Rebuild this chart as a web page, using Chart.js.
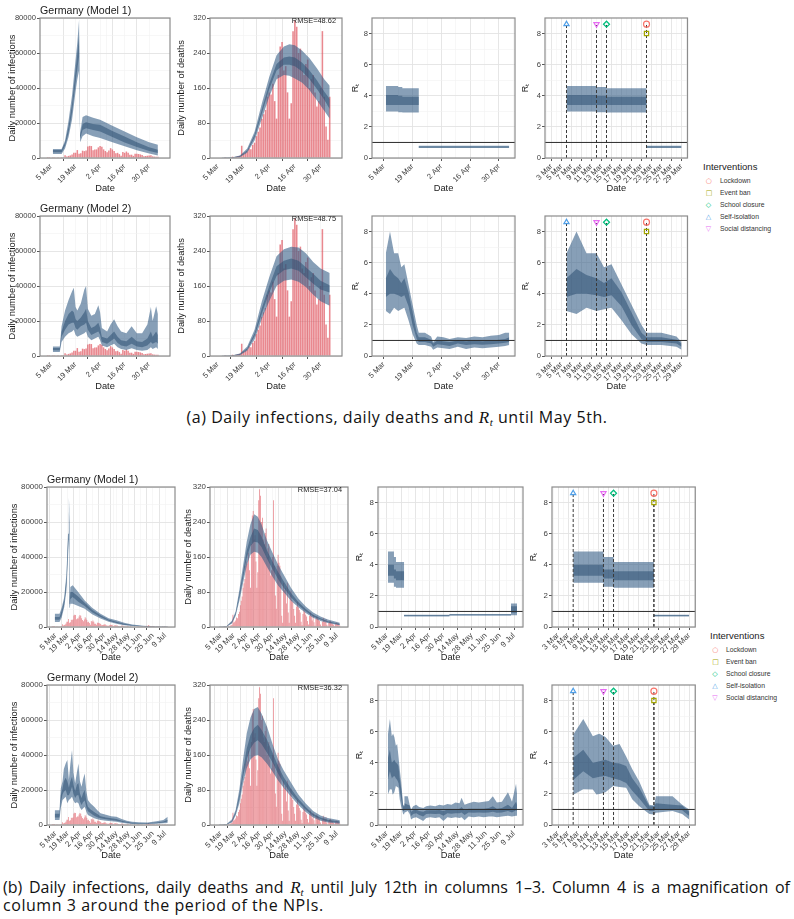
<!DOCTYPE html>
<html>
<head>
<meta charset="utf-8">
<script src="https://cdn.jsdelivr.net/npm/chart.js@4.4.1/dist/chart.umd.min.js"></script>
<style>
  body { margin: 0; width: 794px; height: 919px; background: #fff; position: relative; overflow: hidden; }
  canvas { position: absolute; }
  .cap { position: absolute; font-family: "Open Sans", "Noto Sans", sans-serif; font-size: 16px; letter-spacing: 0.55px; color: #111; white-space: nowrap; }
  .cap .m { font-family: "Liberation Serif", "DejaVu Serif", serif; font-style: italic; font-size: 17px; }
  .cap sub { font-family: "Liberation Serif", serif; font-style: italic; font-size: 11px; vertical-align: -3px; }
  .lg { position: absolute; font-family: "Liberation Sans", Arial, sans-serif; color: #222; white-space: nowrap; line-height: 1; }
</style>
</head>
<body>
<div class="cap" style="left:0; width:794px; top:406px; text-align:center;">(a) Daily infections, daily deaths and <span class="m">R</span><sub>t</sub> until May 5th.</div>
<div class="cap" style="left:3px; width:787px; top:876px; text-align:justify; text-align-last:justify; letter-spacing:0;">(b) Daily infections, daily deaths and <span class="m">R</span><sub>t</sub> until July 12th in columns 1–3. Column 4 is a magnification of</div>
<div class="cap" style="left:3px; top:894px;">column 3 around the period of the NPIs.</div>

<script>
// days are counted from 1 March 2020 (day 0)
const dailyCases = [
  50, 30, 40, 65, 220, 190, 130, 240, 140, 280,
  450, 170, 1600, 910, 1210, 1480, 1990, 3070, 2990, 4530,
  2370, 2660, 4180, 3930, 4340, 6620, 6930, 6820, 4400, 4790,
  4920, 6060, 6920, 6370, 4930, 4030, 3250, 4290, 5630, 4890,
  3990, 2740, 2950, 2220, 1290, 3390, 2950, 3700, 2950, 1840,
  1880, 1230, 2360, 2480, 2270, 2060, 1740, 1020, 1140, 1300,
  1480, 1640, 950, 790, 680, 690,
  950, 1280, 1210, 1250, 670, 360, 930,
  1000, 800, 910, 620, 580, 340, 510,
  800, 740, 650, 440, 460, 180, 430,
  740, 460, 350, 740, 290, 210, 340,
  340, 490, 300, 260, 210, 110, 380,
  280, 230, 460, 430, 250, 200, 310,
  600, 770, 580, 1160, 690, 560, 450,
  590, 470, 510, 400, 250, 200, 420,
  370, 480, 380, 250, 240, 200, 300,
  400, 440, 350, 250, 200
];

const dailyDeaths = [
  0, 0, 0, 0, 0, 0, 0, 0, 2, 0,
  1, 1, 3, 1, 3, 4, 5, 28, 10, 12,
  15, 22, 20, 30, 35, 50, 60, 70, 90, 100,
  110, 140, 150, 145, 170, 130, 90, 190, 255, 265,
  200, 210, 150, 90, 125, 290, 315, 300, 240, 250,
  200, 190, 215, 225, 160, 180, 190, 150, 118, 130,
  160, 290, 140, 72, 42, 140,
  165, 147, 140, 118, 26, 10, 101,
  84, 89, 54, 101, 33, 10, 72,
  83, 62, 57, 41, 26, 10, 47,
  58, 45, 39, 33, 12, 4, 30,
  40, 35, 28, 24, 14, 6, 25,
  33, 26, 15, 28, 11, 3, 19,
  24, 20, 17, 14, 6, 2, 12,
  21, 15, 12, 18, 5, 1, 9,
  13, 14, 10, 8, 6, 2, 7,
  11, 7, 9, 6, 3
];

// model bands: [day, lower 95%, lower 50%, upper 50%, upper 95%]
const infMay1 = [
  [5, 2300, 3300, 4600, 5200], [10, 2300, 3300, 4600, 5200], [12, 5500, 7000, 8700, 10000],
  [14, 12000, 14500, 18000, 21500], [16, 22000, 26000, 31000, 36000], [18, 38000, 43000, 50000, 56000],
  [19, 45000, 51000, 60000, 66000], [20, 50000, 58000, 70000, 79000], [20.6, 9000, 11000, 13000, 14500],
  [22, 12500, 16000, 19500, 23500], [24, 14000, 17000, 20500, 24500], [28, 12500, 16000, 19500, 23000],
  [32, 11400, 15200, 19000, 21800], [39, 9000, 12000, 15500, 18500], [46, 6650, 8900, 12350, 15200],
  [53, 4500, 6300, 9000, 11800], [60, 2600, 4000, 6200, 9000], [65, 1400, 2800, 4700, 7600]
];
const infMay2 = [
  [5, 2300, 3300, 4600, 5500], [9, 2300, 3300, 4600, 5500], [10, 8000, 11000, 14000, 17000],
  [12, 11000, 15000, 20000, 26000], [14, 13000, 18000, 24000, 32000], [16, 14000, 19000, 26000, 37000],
  [17, 15000, 19000, 25000, 39000], [18, 12000, 16000, 21000, 28000], [19, 11000, 15000, 20000, 26000],
  [21, 12000, 17000, 22000, 30000], [23, 13000, 18000, 25000, 38000], [24, 14000, 19000, 27000, 40000],
  [25, 11000, 15000, 20000, 27000], [27, 9000, 12000, 16000, 23000], [29, 10000, 13000, 17000, 24000],
  [31, 11000, 14000, 19000, 29000], [32, 9000, 12000, 16000, 25000], [33, 6000, 8000, 11000, 16000],
  [36, 5000, 7000, 10000, 14000], [38, 6000, 8500, 12000, 18000], [40, 7000, 10000, 14000, 21000],
  [42, 5000, 7500, 11000, 17000], [44, 4000, 6000, 9000, 14000], [47, 3500, 5500, 8500, 13000],
  [50, 4500, 7000, 11000, 17000], [53, 3500, 5500, 8500, 13000], [56, 3000, 5000, 8000, 13000],
  [59, 3500, 6000, 10000, 18000], [61, 5000, 8000, 14000, 28000], [62, 4000, 7000, 11000, 20000],
  [64, 5000, 8000, 14000, 28500], [65, 4000, 7000, 12000, 24000]
];
const deathMay1 = [
  [6, 0, 0, 0, 0.5], [12, 0.5, 1, 1.5, 2], [16, 2, 3, 4, 6], [20, 12, 15, 18, 22],
  [24, 40, 47, 53, 60], [28, 90, 102, 112, 125], [32, 140, 157, 170, 185], [36, 180, 200, 215, 235],
  [40, 190, 213, 230, 255], [43, 188, 213, 232, 260], [46, 182, 210, 230, 258], [50, 172, 198, 218, 245],
  [54, 155, 180, 200, 228], [58, 132, 158, 178, 205], [62, 108, 133, 152, 180], [65, 90, 112, 135, 165]
];
const deathMay2 = [
  [6, 0, 0, 0, 0.5], [12, 0.5, 1, 1.5, 2], [16, 2, 3, 4, 6], [20, 12, 15, 18, 22],
  [24, 38, 45, 52, 60], [28, 85, 97, 110, 125], [32, 125, 145, 160, 180], [36, 160, 183, 205, 228],
  [40, 172, 196, 218, 244], [44, 175, 200, 223, 250], [48, 170, 195, 218, 248], [52, 158, 180, 203, 235],
  [56, 140, 165, 188, 215], [60, 125, 152, 172, 200], [65, 115, 145, 162, 190]
];
const rtMay1 = [
  [5, 2.99, 3.41, 4.05, 4.63], [11, 2.94, 3.40, 4.00, 4.56], [13, 2.92, 3.41, 3.94, 4.48],
  [21, 0.64, 0.68, 0.74, 0.78], [28, 0.64, 0.68, 0.74, 0.78], [65, 0.64, 0.68, 0.74, 0.78]
];
const rtMay2 = [
  [5, 2.9, 3.8, 5.0, 6.6], [7, 2.7, 4.0, 5.6, 8.0], [9, 3.1, 4.0, 5.2, 6.6], [11, 2.9, 3.9, 5.0, 6.6],
  [12.5, 3.0, 3.8, 4.7, 5.7], [14, 3.1, 3.9, 5.0, 5.9], [16, 2.3, 3.2, 4.1, 4.6], [18, 1.4, 2.0, 2.8, 3.3],
  [20, 0.8, 1.1, 1.5, 2.0], [21, 0.7, 0.9, 1.2, 1.5], [24, 0.7, 0.9, 1.2, 1.5], [27, 0.6, 0.8, 1.05, 1.25],
  [28, 0.4, 0.6, 0.8, 0.9], [30, 0.55, 0.75, 1.0, 1.25], [33, 0.5, 0.7, 0.95, 1.2], [36, 0.45, 0.65, 0.9, 1.1],
  [40, 0.6, 0.8, 1.0, 1.2], [44, 0.45, 0.7, 0.95, 1.15], [48, 0.55, 0.75, 1.0, 1.25], [52, 0.5, 0.72, 0.95, 1.2],
  [56, 0.55, 0.75, 1.0, 1.3], [60, 0.6, 0.8, 1.05, 1.35], [63, 0.65, 0.85, 1.1, 1.5], [65, 0.7, 0.9, 1.2, 1.5]
];

const infJul1 = [
  [3, 2900, 4200, 5700, 7600], [8.5, 2900, 4200, 5700, 7600], [11, 5500, 7000, 9000, 11000],
  [14, 11400, 13000, 15500, 17100], [16.5, 21000, 24000, 28000, 30500], [18.3, 40000, 44000, 50000, 53300],
  [19.3, 50000, 57000, 66000, 74000], [19.8, 42000, 50000, 60000, 68000], [20.4, 11000, 13000, 15000, 17000],
  [21, 13300, 16000, 20000, 22900], [23.7, 13300, 17100, 20000, 23800], [30, 12000, 14500, 17500, 20000],
  [37.5, 10500, 12000, 13800, 15200], [46, 7300, 8500, 9800, 11000], [55.7, 4800, 5700, 6700, 7600],
  [65, 3000, 3600, 4300, 5000], [74, 1900, 2300, 3000, 3800], [83, 1000, 1300, 1800, 2400],
  [92, 570, 800, 1100, 1500], [105, 250, 350, 500, 700], [118, 100, 150, 220, 350], [133, 40, 60, 100, 170]
];
const infJul2 = [
  [3, 2900, 4300, 6500, 8500], [8.5, 2900, 4300, 6500, 8500], [10, 10000, 13000, 17000, 21000],
  [12, 14300, 17500, 21000, 25000], [13.5, 15000, 19000, 25000, 32000], [15.6, 16200, 20000, 27000, 35200],
  [17.5, 12400, 17000, 25000, 37100], [19.3, 14300, 17000, 21500, 25700], [21, 15000, 19000, 25000, 35000],
  [22.9, 16200, 21900, 27600, 42900], [24.5, 14000, 18000, 23000, 30000], [26.5, 12400, 15500, 19500, 23800],
  [28.5, 13000, 17000, 23000, 30000], [30.3, 12400, 17000, 24000, 35200], [32, 10000, 13500, 18000, 25000],
  [33.9, 8570, 11500, 15500, 21900], [35.5, 9500, 13000, 18000, 26000], [37.5, 10500, 14000, 20000, 29500],
  [39.5, 7500, 10000, 13500, 19000], [41.2, 5700, 7800, 10500, 14300], [44, 5000, 6800, 9000, 12500],
  [48.4, 3800, 5300, 7500, 10500], [52, 3300, 4500, 6300, 8500], [55.7, 2860, 3800, 5000, 6700],
  [62, 2500, 3300, 4300, 5800], [68, 2100, 2900, 3800, 5000], [74, 1900, 2500, 3400, 4760],
  [80, 1300, 1800, 2500, 3400], [86, 900, 1300, 1800, 2500], [92, 570, 900, 1300, 1900],
  [100, 500, 800, 1100, 1600], [110, 570, 850, 1100, 1500], [120, 700, 1000, 1500, 2100],
  [128, 950, 1400, 2000, 2860], [133, 1200, 2000, 3000, 4760]
];
const deathJul1 = [
  [0, 0, 0, 0, 0], [10, 0.5, 1, 1.5, 2], [16, 8, 10, 12, 15], [20, 26, 29, 32, 36],
  [24, 60, 68, 76, 85], [28, 100, 112, 125, 140], [32, 140, 158, 175, 195], [36, 165, 185, 205, 235],
  [40, 172, 195, 225, 258], [44, 170, 193, 222, 252], [48, 160, 183, 207, 235], [54, 137, 156, 175, 198],
  [60, 115, 132, 150, 170], [66, 95, 110, 126, 143], [72, 80, 90, 105, 120], [80, 60, 68, 78, 90],
  [88, 45, 50, 57, 65], [96, 32, 36, 41, 47], [104, 21, 24, 28, 33], [112, 14, 17, 20, 24],
  [120, 9, 11, 13, 17], [133, 4, 5, 7, 10]
];
const deathJul2 = [
  [0, 0, 0, 0, 0], [10, 0.5, 1, 1.5, 2], [16, 6, 8, 10, 13], [20, 22, 26, 30, 35],
  [24, 50, 60, 70, 82], [28, 95, 110, 125, 150], [32, 130, 150, 175, 210], [36, 150, 175, 205, 245],
  [40, 158, 188, 222, 265], [44, 160, 194, 229, 270], [48, 155, 185, 218, 255], [54, 140, 165, 195, 225],
  [60, 122, 143, 165, 185], [66, 102, 118, 135, 150], [72, 85, 95, 110, 125], [80, 65, 72, 83, 97],
  [88, 46, 52, 60, 70], [96, 30, 35, 41, 49], [104, 17, 21, 26, 32], [112, 10, 13, 17, 22],
  [120, 6, 8, 12, 16], [133, 3, 5, 8, 11]
];
const rtJul1 = [
  [5, 2.84, 3.30, 4.00, 4.86], [11, 2.58, 3.11, 3.69, 4.50], [13, 2.52, 3.00, 3.58, 4.18],
  [21, 0.68, 0.71, 0.75, 0.78], [28, 0.68, 0.71, 0.75, 0.78], [66, 0.73, 0.77, 0.81, 0.84],
  [127, 0.75, 0.92, 1.34, 1.51], [133, 0.75, 0.92, 1.34, 1.51]
];
const rtJul2 = [
  [5, 1.95, 2.9, 4.3, 5.8], [7, 2.3, 3.45, 4.84, 6.82], [8.9, 2.28, 3.0, 4.0, 5.7], [9.6, 1.96, 3.05, 4.05, 5.8],
  [10.2, 2.0, 3.1, 4.1, 5.86], [11.4, 2.1, 3.15, 4.2, 5.65], [12.9, 2.5, 3.0, 4.0, 5.1], [14.2, 2.45, 2.9, 3.95, 5.2],
  [15.5, 2.4, 2.7, 3.8, 4.4], [16.7, 1.66, 2.2, 3.0, 3.6], [18.1, 1.2, 1.7, 2.4, 2.8], [20.1, 0.7, 0.9, 1.2, 1.3],
  [21, 0.68, 0.9, 1.2, 1.25], [21.4, 0.79, 1.0, 1.4, 1.85], [24.7, 0.9, 1.0, 1.3, 1.85], [26.6, 0.7, 0.95, 1.25, 1.3],
  [28, 0.36, 0.58, 0.85, 1.0], [30, 0.45, 0.7, 0.95, 1.2], [33, 0.5, 0.75, 1.0, 1.3], [36, 0.4, 0.65, 0.9, 1.15],
  [40, 0.25, 0.55, 0.85, 1.1], [43, 0.45, 0.7, 0.95, 1.2], [47, 0.5, 0.72, 0.95, 1.25], [52, 0.45, 0.7, 0.95, 1.2],
  [56, 0.5, 0.72, 0.97, 1.3], [60, 0.25, 0.6, 0.9, 1.25], [64, 0.5, 0.75, 1.0, 1.35], [68, 0.45, 0.72, 1.0, 1.3],
  [72, 0.5, 0.75, 1.0, 1.45], [76, 0.45, 0.75, 1.05, 1.4], [78, 0.5, 0.8, 1.15, 1.75], [81, 0.3, 0.65, 0.95, 1.3],
  [85, 0.55, 0.8, 1.05, 1.4], [90, 0.5, 0.78, 1.05, 1.5], [95, 0.55, 0.8, 1.05, 1.45], [100, 0.5, 0.78, 1.05, 1.5],
  [105, 0.55, 0.8, 1.1, 1.55], [109, 0.55, 0.85, 1.2, 1.85], [113, 0.5, 0.78, 1.05, 1.45], [118, 0.55, 0.8, 1.1, 1.5],
  [124, 0.6, 0.9, 1.3, 2.1], [128, 0.55, 0.8, 1.1, 1.5], [132, 0.6, 0.95, 1.5, 2.65], [133, 0.6, 0.9, 1.3, 2.0]
];

const interventionNames = ['Lockdown', 'Event ban', 'School closure', 'Self-isolation', 'Social distancing'];
const interventionDays = [21, 21, 13, 5, 11];
const interventionLevels = [8.6, 8.0, 8.6, 8.6, 8.6];

const infTicks = [0, 20000, 40000, 60000, 80000];
const infMinor = [10000, 30000, 50000, 70000];
const deathTicks = [0, 80, 160, 240, 320];
const deathMinor = [40, 120, 200, 280];
const rtTicks = [0, 2, 4, 6, 8];
const rtMinor = [1, 3, 5, 7];
const rtThreshold = 1;
const longTicks = [4, 18, 32, 46, 60, 74, 88, 102, 116, 130];
const longMinor = [-3, 11, 25, 39, 53, 67, 81, 95, 109, 123, 137];
const zoomTicks = [2, 4, 6, 8, 10, 12, 14, 16, 18, 20, 22, 24, 26, 28];
const zoomMinor = [1, 3, 5, 7, 9, 11, 13, 15, 17, 19, 21, 23, 25, 27, 29];
const zoomLastDay = 28;

// styling
const family = '"Liberation Sans", Arial, sans-serif';
const outerFill = 'rgba(55, 95, 135, 0.6)';
const innerFill = 'rgba(45, 80, 115, 0.55)';
const barFill = 'rgba(222, 80, 90, 0.68)';
const markerColors = ['#F8766D', '#A3A500', '#00BF7D', '#4f9fe8', '#E76BF3'];
const markerShapes = ['circle', 'rect', 'rectRot', 'triangle', 'triangle'];
const markerRotation = [0, 0, 0, 0, 180];
const legendGlyphs = ['\u25CB', '\u25A1', '\u25C7', '\u25B3', '\u25BD'];

const months = ['Jan', 'Feb', 'Mar', 'Apr', 'May', 'Jun', 'Jul'];
function dayLabel(day) {
  const d = new Date(2020, 2, 1 + day);
  return d.getDate() + ' ' + months[d.getMonth()];
}

const figures = [
  {
    end: 65, tickSize: 7.6,
    rows: [
      { top: 18, title: 'Germany (Model 1)', rmse: 'RMSE=48.62', inf: infMay1, death: deathMay1, rt: rtMay1, stepped: true },
      { top: 216, title: 'Germany (Model 2)', rmse: 'RMSE=48.75', inf: infMay2, death: deathMay2, rt: rtMay2, stepped: false }
    ],
    cols: [
      { left: 40, w: 130, yw: 36, pad: 3, range: [1.4, 68.2] },
      { left: 210, w: 132, yw: 36, pad: 2, range: [3.3, 68.1] },
      { left: 372, w: 143, yw: 24, pad: 2, range: [-1.75, 67.8] },
      { left: 545, w: 143, yw: 26, pad: 1, range: [0.7, 29.2] }
    ],
    legend: { x: 703, y: 166.7, symX: 709.3, textX: 720, items: [181.7, 193.7, 205.7, 217.7, 229.7] }
  },
  {
    end: 133, tickSize: 7.9,
    rows: [
      { top: 487, title: 'Germany (Model 1)', rmse: 'RMSE=37.04', inf: infJul1, death: deathJul1, rt: rtJul1, stepped: true },
      { top: 685, title: 'Germany (Model 2)', rmse: 'RMSE=36.32', inf: infJul2, death: deathJul2, rt: rtJul2, stepped: false }
    ],
    cols: [
      { left: 47, w: 128, yw: 40, pad: 1.5, range: [-2.2, 137.7] },
      { left: 210, w: 138, yw: 30, pad: 2.5, range: [-4.3, 138.3] },
      { left: 378, w: 145, yw: 26, pad: 2.5, range: [-4.8, 138.9] },
      { left: 552, w: 144, yw: 26, pad: 2, range: [0.8, 29.2] }
    ],
    legend: { x: 710, y: 635.7, symX: 715.7, textX: 726, items: [650.7, 662.7, 674.5, 686.7, 698.7] }
  }
];

const PAD_TOP = 16;
const PLOT_H = 140;
const X_AXIS_H = 40;
const PAD_RIGHT = 6;

const panelDecor = {
  id: 'panelDecor',
  afterDatasetsDraw(chart, args, opts) {
    const { ctx, chartArea: a, scales } = chart;
    ctx.save();
    if (opts.refLine !== null) {
      const y = scales.y.getPixelForValue(opts.refLine);
      ctx.strokeStyle = '#2b2b2b';
      ctx.lineWidth = 1;
      ctx.beginPath();
      ctx.moveTo(a.left, y);
      ctx.lineTo(a.right, y);
      ctx.stroke();
    }
    ctx.strokeStyle = '#8c8c8c';
    ctx.lineWidth = 1.2;
    ctx.strokeRect(a.left, a.top, a.right - a.left, a.bottom - a.top);
    ctx.fillStyle = '#1a1a1a';
    if (opts.title) {
      ctx.font = '10.6px ' + family;
      ctx.textAlign = 'left';
      ctx.textBaseline = 'alphabetic';
      ctx.fillText(opts.title, a.left, a.top - 4.5);
    }
    if (opts.rmse) {
      ctx.font = '7.4px ' + family;
      ctx.textAlign = 'right';
      ctx.textBaseline = 'middle';
      ctx.fillStyle = '#222';
      ctx.fillText(opts.rmse, a.right - 6, a.top + 3);
    }
    ctx.restore();
  }
};

function axis({ min, max, major, minor, format, tickSize, title, titleSize, titlePad, size, horizontal }) {
  const values = major.concat(minor).filter((v) => v >= min && v <= max);
  const isMajor = (ctx) => ctx.tick && major.includes(ctx.tick.value);
  return {
    type: 'linear',
    min,
    max,
    afterBuildTicks: (scale) => { scale.ticks = values.map((v) => ({ value: v })); },
    afterFit: (scale) => { if (horizontal) scale.height = size; else scale.width = size; },
    ticks: {
      autoSkip: false,
      padding: 1,
      color: '#3d3d3d',
      font: { family, size: tickSize },
      minRotation: horizontal ? 45 : 0,
      maxRotation: horizontal ? 45 : 0,
      callback: (v) => (major.includes(v) ? format(v) : '')
    },
    grid: {
      color: (ctx) => (isMajor(ctx) ? '#e3e3e3' : '#f1f1f1'),
      lineWidth: (ctx) => (isMajor(ctx) ? 0.9 : 0.6),
      tickLength: 3,
      tickColor: (ctx) => (isMajor(ctx) ? '#444' : 'rgba(0,0,0,0)')
    },
    border: { display: false },
    title: {
      display: true,
      text: title,
      color: '#1a1a1a',
      font: { family, size: titleSize },
      padding: horizontal ? { top: 0, bottom: 4 } : { top: titlePad, bottom: 0 }
    }
  };
}

function bandDatasets(rows, stepped) {
  const pick = (k) => rows.map((r) => ({ x: r[0], y: r[k] }));
  const base = { type: 'line', pointRadius: 0, borderWidth: 0, borderColor: 'rgba(0,0,0,0)', stepped, tension: 0 };
  return [
    { ...base, data: pick(4), fill: '+1', backgroundColor: outerFill, order: 2 },
    { ...base, data: pick(1), fill: false, order: 2 },
    { ...base, data: pick(3), fill: '+1', backgroundColor: innerFill, order: 1 },
    { ...base, data: pick(2), fill: false, order: 1 }
  ];
}

function barDataset(values, xMin, end) {
  return {
    type: 'bar',
    data: values.map((v, day) => ({ x: day, y: v })).filter((p) => p.x > xMin && p.x <= end),
    backgroundColor: barFill,
    barPercentage: 1,
    categoryPercentage: 0.85,
    order: 3
  };
}

function interventionDatasets() {
  const lines = interventionDays.map((day, i) => ({
    type: 'line',
    data: [{ x: day, y: 0 }, { x: day, y: interventionLevels[i] }],
    borderColor: '#3a3a3a',
    borderWidth: 1,
    borderDash: [3, 2],
    pointRadius: 0,
    fill: false,
    order: 0
  }));
  const marks = interventionDays.map((day, i) => ({
    type: 'line',
    showLine: false,
    data: [{ x: day, y: interventionLevels[i] }],
    pointStyle: markerShapes[i],
    rotation: markerRotation[i],
    pointRadius: 3,
    pointBorderWidth: 1.2,
    pointBorderColor: markerColors[i],
    pointBackgroundColor: 'rgba(0,0,0,0)',
    order: -1
  }));
  return lines.concat(marks);
}

function buildPanel(fig, row, colIndex) {
  const col = fig.cols[colIndex];
  const [xMin, xMax] = col.range;
  const width = col.yw + col.w + PAD_RIGHT;
  const height = PAD_TOP + PLOT_H + X_AXIS_H;
  const canvas = document.createElement('canvas');
  canvas.width = width;
  canvas.height = height;
  canvas.style.left = (col.left - col.yw) + 'px';
  canvas.style.top = (row.top - PAD_TOP) + 'px';
  canvas.style.width = width + 'px';
  canvas.style.height = height + 'px';
  document.body.append(canvas);

  const isZoom = colIndex === 3;
  let datasets;
  let yAxis;
  if (colIndex === 0) {
    datasets = [barDataset(dailyCases, xMin, fig.end), ...bandDatasets(row.inf, false)];
    yAxis = { min: 0, max: 80000, major: infTicks, minor: infMinor, format: String, title: 'Daily number of infections', titleSize: 9.3 };
  } else if (colIndex === 1) {
    datasets = [barDataset(dailyDeaths, xMin, fig.end), ...bandDatasets(row.death, false)];
    yAxis = { min: 0, max: 320, major: deathTicks, minor: deathMinor, format: String, title: 'Daily number of deaths', titleSize: 9.3 };
  } else {
    const rows = isZoom ? row.rt.filter((r) => r[0] <= zoomLastDay) : row.rt;
    datasets = bandDatasets(rows, row.stepped);
    if (isZoom) datasets = datasets.concat(interventionDatasets());
    yAxis = { min: 0, max: 9, major: rtTicks, minor: rtMinor, format: String, title: 'R\u209C', titleSize: 9 };
  }

  new Chart(canvas, {
    type: 'line',
    data: { datasets },
    plugins: [panelDecor],
    options: {
      responsive: false,
      devicePixelRatio: 1,
      animation: false,
      events: [],
      layout: { padding: { top: PAD_TOP, right: PAD_RIGHT, left: 0, bottom: 0 } },
      plugins: {
        legend: { display: false },
        tooltip: { enabled: false },
        panelDecor: {
          refLine: colIndex >= 2 ? rtThreshold : null,
          title: colIndex === 0 ? row.title : '',
          rmse: colIndex === 1 ? row.rmse : ''
        }
      },
      scales: {
        x: axis({
          min: xMin, max: xMax,
          major: isZoom ? zoomTicks : longTicks,
          minor: isZoom ? zoomMinor : longMinor,
          format: dayLabel, tickSize: fig.tickSize,
          title: 'Date', titleSize: 9.3, size: X_AXIS_H, horizontal: true
        }),
        y: axis({ ...yAxis, tickSize: fig.tickSize, titlePad: col.pad, size: col.yw, horizontal: false })
      }
    }
  });
}

function buildLegend(spec) {
  const title = document.createElement('div');
  title.className = 'lg';
  title.textContent = 'Interventions';
  title.style.fontSize = '9.5px';
  title.style.left = spec.x + 'px';
  title.style.top = (spec.y - 5) + 'px';
  document.body.append(title);
  interventionNames.forEach((name, i) => {
    const glyph = document.createElement('div');
    glyph.className = 'lg';
    glyph.textContent = legendGlyphs[i];
    glyph.style.fontFamily = '"DejaVu Sans", sans-serif';
    glyph.style.fontSize = '7px';
    glyph.style.color = markerColors[i];
    glyph.style.left = (spec.symX - 3.5) + 'px';
    glyph.style.top = (spec.items[i] - 4) + 'px';
    document.body.append(glyph);
    const label = document.createElement('div');
    label.className = 'lg';
    label.textContent = name;
    label.style.fontSize = '6.8px';
    label.style.color = '#333';
    label.style.left = spec.textX + 'px';
    label.style.top = (spec.items[i] - 3.5) + 'px';
    document.body.append(label);
  });
}

figures.forEach((fig) => {
  fig.rows.forEach((row) => {
    for (let c = 0; c < 4; c++) buildPanel(fig, row, c);
  });
  buildLegend(fig.legend);
});
</script>
</body>
</html>
